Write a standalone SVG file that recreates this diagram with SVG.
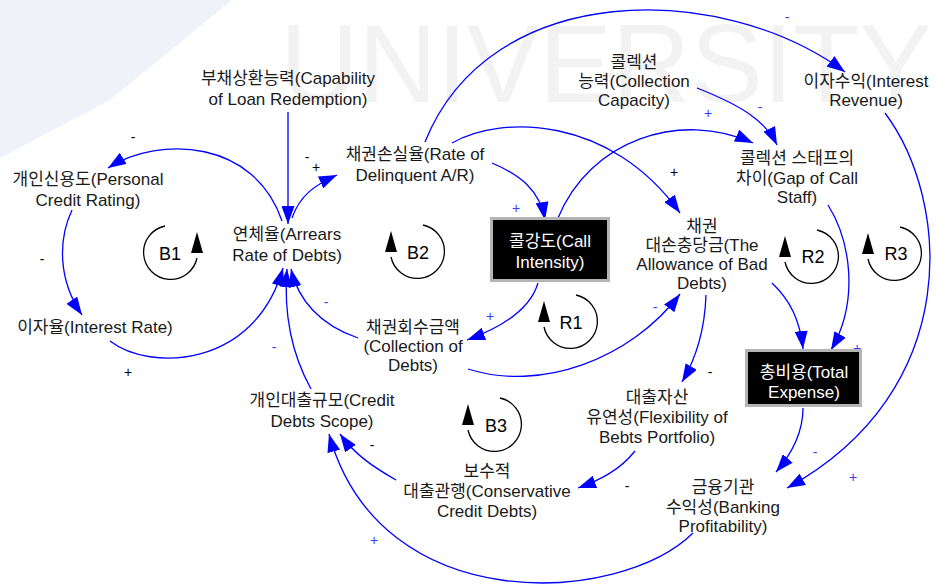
<svg xmlns="http://www.w3.org/2000/svg" xmlns:xlink="http://www.w3.org/1999/xlink" width="938" height="584" viewBox="0 0 938 584">
<style>
  .t { font-family: "Liberation Sans", "Noto Sans CJK KR", sans-serif; font-size: 17px; fill: #1a1a1a; text-anchor: middle; }
  .w { fill: #ffffff; }
  .c { fill: none; stroke: #0000ff; stroke-width: 1.3; marker-end: url(#ah); }
  .s { font-family: "Liberation Sans", sans-serif; font-size: 14px; text-anchor: middle; dominant-baseline: central; }
  .sb { fill: #000000; }
  .su { fill: #3a3aff; }
  .box { fill: #000000; stroke: #b4b4b4; stroke-width: 3; }
  .loop { fill: none; stroke: #000000; stroke-width: 1.3; }
  .lt { font-family: "Liberation Sans", sans-serif; font-size: 18px; fill: #000; text-anchor: middle; dominant-baseline: central; }
</style>
<defs>
  <marker id="ah" markerUnits="userSpaceOnUse" markerWidth="18" markerHeight="13" viewBox="0 0 18 13" refX="18" refY="6.5" orient="auto">
    <path d="M0,0 L18,6.5 L0,13 z" fill="#0000ff"/>
  </marker>
  <g id="loopL">
    <path class="loop" d="M5,-27 A27,27 0 1 1 -27,5"/>
    <polygon points="-33,0 -21,0 -27,-21" fill="#000"/>
  </g>
  <g id="loopR">
    <path class="loop" d="M-5,-27 A27,27 0 1 0 27,5"/>
    <polygon points="21,0 33,0 27,-21" fill="#000"/>
  </g>
</defs>
<rect width="938" height="584" fill="#ffffff"/>
<g id="watermark">
  <polygon points="0,0 232,0 110,100 0,158" fill="#eff3f9"/>
  <text x="280" y="102" font-family="Liberation Sans, sans-serif" font-size="112" fill="#f2f2f2" textLength="652" lengthAdjust="spacingAndGlyphs">UNIVERSITY</text>
</g>

<g id="connectors">
  <path class="c" d="M288,112 L288,224"/>
  <path class="c" d="M282,221 C255,140 160,135 108,168"/>
  <path class="c" d="M72,210 C58,240 58,280 82,315"/>
  <path class="c" d="M110,341 C150,372 255,368 283,268"/>
  <path class="c" d="M292,218 C300,195 315,185 337,175"/>
  <path class="c" d="M492,163 C520,175 540,190 545,220"/>
  <path class="c" d="M452,143 C500,115 610,115 680,213"/>
  <path class="c" d="M425,142 C490,-20 720,-20 845,72"/>
  <path class="c" d="M358,338 C320,325 298,300 291,269"/>
  <path class="c" d="M538,283 C530,310 500,328 467,340"/>
  <path class="c" d="M468,369 C540,392 630,360 680,294"/>
  <path class="c" d="M558,218 C590,140 680,110 753,143"/>
  <path class="c" d="M697,88 C740,105 765,120 777,145"/>
  <path class="c" d="M885,113 C950,200 965,390 787,488"/>
  <path class="c" d="M828,205 C850,240 860,300 831,350"/>
  <path class="c" d="M772,283 C790,300 800,320 803,349"/>
  <path class="c" d="M706,295 C705,325 698,355 682,382"/>
  <path class="c" d="M803,408 C803,430 795,450 776,472"/>
  <path class="c" d="M635,451 C620,470 600,480 578,488"/>
  <path class="c" d="M396,480 C375,468 355,455 340,434"/>
  <path class="c" d="M693,533 C620,605 380,620 329,434"/>
  <path class="c" d="M311,389 C295,360 283,320 287,269"/>
</g>

<g id="signs">
  <text class="s sb" x="133" y="137">-</text>
  <text class="s sb" x="42" y="259">-</text>
  <text class="s sb" x="128" y="372">+</text>
  <text class="s sb" x="307" y="157">-</text>
  <text class="s sb" x="316" y="167">+</text>
  <text class="s su" x="516" y="208">+</text>
  <text class="s su" x="490" y="316">+</text>
  <text class="s su" x="326" y="302">-</text>
  <text class="s sb" x="674" y="172">+</text>
  <text class="s su" x="708" y="113">+</text>
  <text class="s su" x="760" y="107">-</text>
  <text class="s su" x="787" y="17">-</text>
  <text class="s su" x="655" y="307">-</text>
  <text class="s sb" x="710" y="372">-</text>
  <text class="s su" x="857" y="348">+</text>
  <text class="s su" x="815" y="452">-</text>
  <text class="s su" x="853" y="477">+</text>
  <text class="s sb" x="627" y="486">-</text>
  <text class="s sb" x="372" y="445">-</text>
  <text class="s su" x="374" y="540">+</text>
  <text class="s su" x="274" y="347">-</text>
</g>

<g id="loops">
  <g id="loop-B1"><use xlink:href="#loopR" x="170" y="253"/><text class="lt" x="170" y="254">B1</text></g>
  <g id="loop-B2"><use xlink:href="#loopL" x="418" y="252"/><text class="lt" x="418" y="253">B2</text></g>
  <g id="loop-R1"><use xlink:href="#loopL" x="571" y="322"/><text class="lt" x="571" y="323">R1</text></g>
  <g id="loop-R2"><use xlink:href="#loopL" x="812" y="257"/><text class="lt" x="813" y="257">R2</text></g>
  <g id="loop-R3"><use xlink:href="#loopL" x="895" y="254"/><text class="lt" x="896" y="254">R3</text></g>
  <g id="loop-B3"><use xlink:href="#loopL" x="495" y="425"/><text class="lt" x="496" y="426">B3</text></g>
</g>

<g id="n-capability"><text class="t" x="288" y="84">부채상환능력(Capability</text><text class="t" x="288" y="105">of Loan Redemption)</text></g>
<g id="n-personal"><text class="t" x="88" y="185">개인신용도(Personal</text><text class="t" x="88" y="206">Credit Rating)</text></g>
<g id="n-interest-rate"><text class="t" x="95" y="333">이자율(Interest Rate)</text></g>
<g id="n-arrears"><text class="t" x="287" y="240">연체율(Arrears</text><text class="t" x="287" y="261">Rate of Debts)</text></g>
<g id="n-delinquent"><text class="t" x="415" y="160">채권손실율(Rate of</text><text class="t" x="415" y="181">Delinquent A/R)</text></g>
<g id="n-call"><rect class="box" x="491.5" y="218.5" width="117" height="62"/><text class="t w" x="550" y="247">콜강도(Call</text><text class="t w" x="550" y="268">Intensity)</text></g>
<g id="n-collection"><text class="t" x="413" y="333">채권회수금액</text><text class="t" x="413" y="352">(Collection of</text><text class="t" x="413" y="371">Debts)</text></g>
<g id="n-capacity"><text class="t" x="634" y="68">콜렉션</text><text class="t" x="634" y="87">능력(Collection</text><text class="t" x="634" y="106">Capacity)</text></g>
<g id="n-revenue"><text class="t" x="866" y="87">이자수익(Interest</text><text class="t" x="866" y="106">Revenue)</text></g>
<g id="n-gap"><text class="t" x="797" y="164">콜렉션 스태프의</text><text class="t" x="797" y="184">차이(Gap of Call</text><text class="t" x="797" y="203">Staff)</text></g>
<g id="n-allowance"><text class="t" x="702" y="232">채권</text><text class="t" x="702" y="251">대손충당금(The</text><text class="t" x="702" y="270">Allowance of Bad</text><text class="t" x="702" y="289">Debts)</text></g>
<g id="n-total"><rect class="box" x="746.5" y="350.5" width="114" height="55"/><text class="t w" x="804" y="378">총비용(Total</text><text class="t w" x="804" y="398">Expense)</text></g>
<g id="n-banking"><text class="t" x="723" y="493">금융기관</text><text class="t" x="723" y="513">수익성(Banking</text><text class="t" x="723" y="532">Profitability)</text></g>
<g id="n-flexibility"><text class="t" x="657" y="403">대출자산</text><text class="t" x="657" y="423">유연성(Flexibility of</text><text class="t" x="657" y="443">Bebts Portfolio)</text></g>
<g id="n-conservative"><text class="t" x="487" y="477">보수적</text><text class="t" x="487" y="497">대출관행(Conservative</text><text class="t" x="487" y="517">Credit Debts)</text></g>
<g id="n-scope"><text class="t" x="322" y="406">개인대출규모(Credit</text><text class="t" x="322" y="427">Debts Scope)</text></g>
</svg>
